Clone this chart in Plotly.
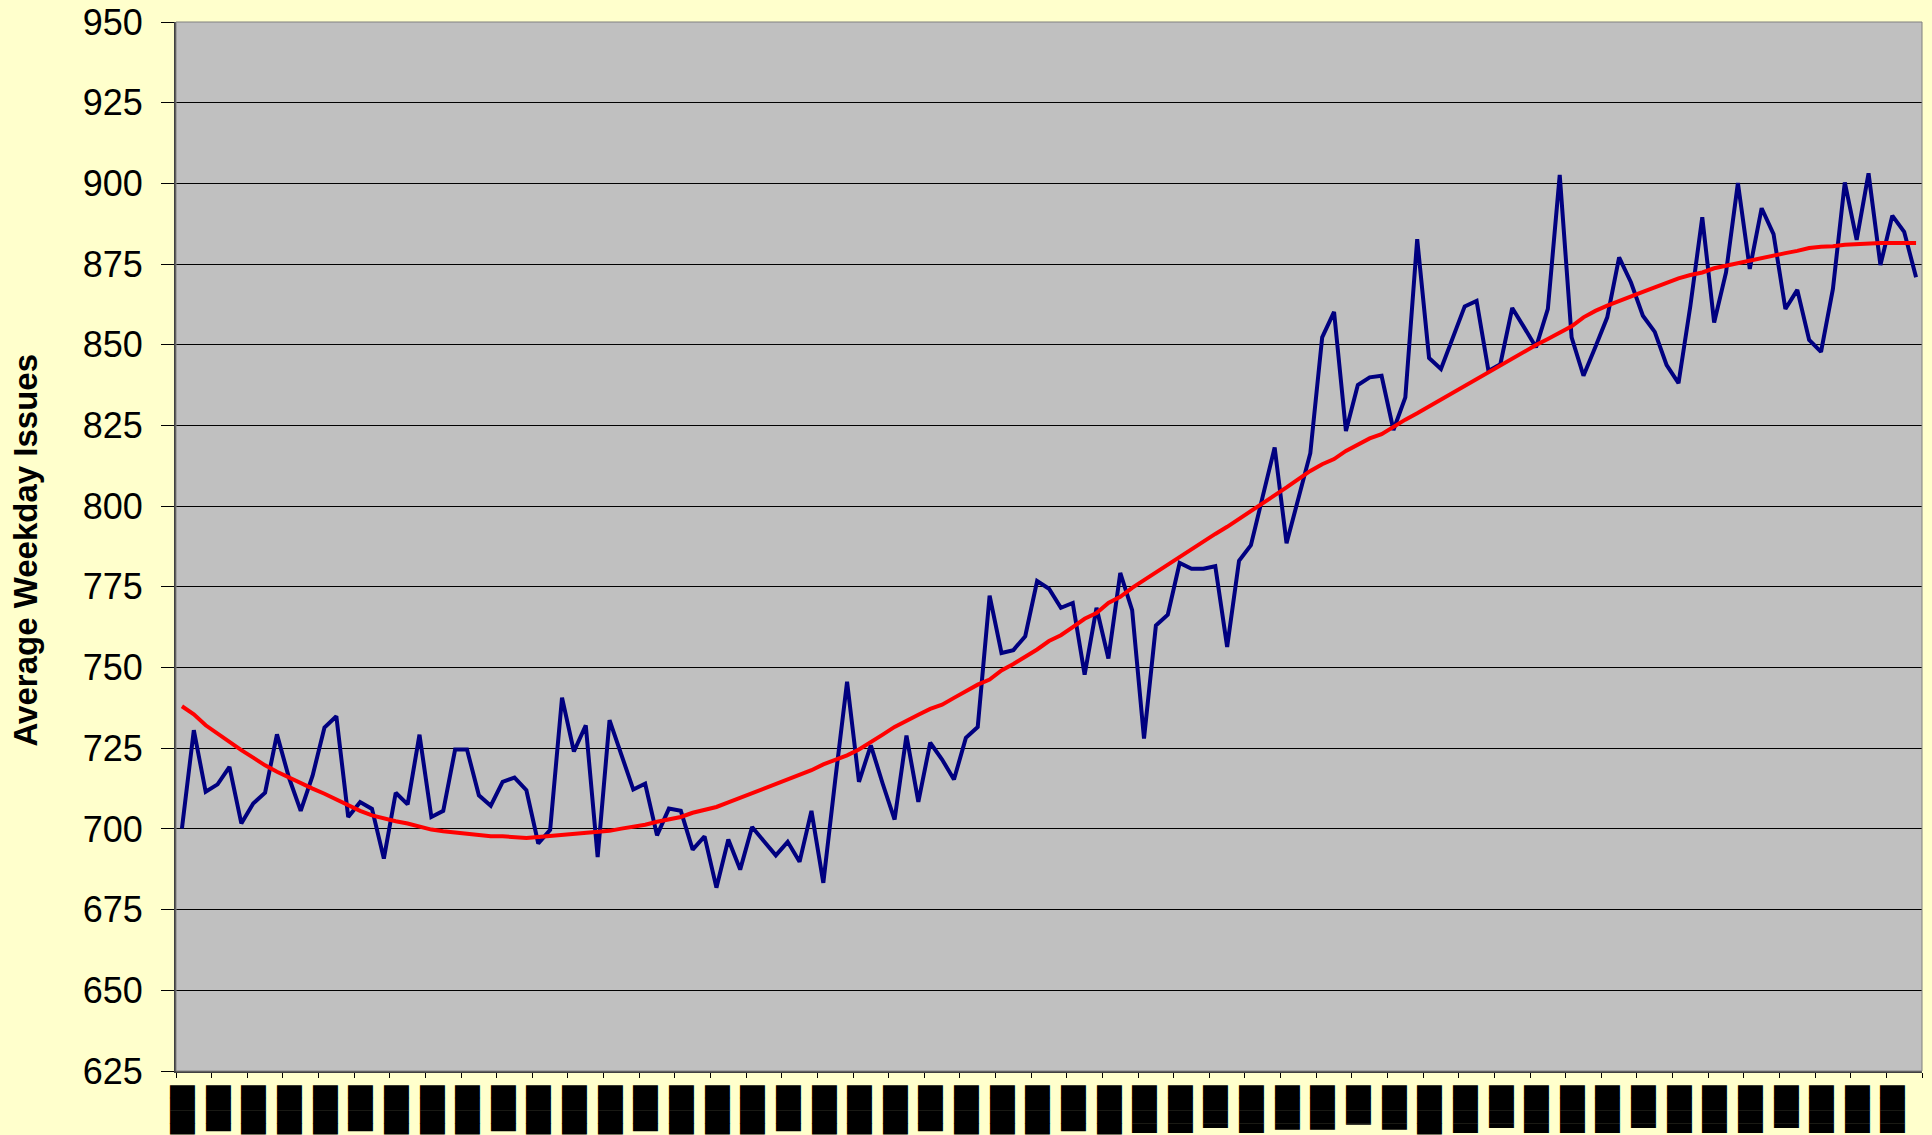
import plotly.graph_objects as go

# Monthly average weekday issues (147 months) and the smoothed trend
issues = [
    700.1, 730.6, 711.5, 713.8, 719.2, 701.7, 707.9, 711.2, 729.3, 716.0,
    705.6, 716.5, 731.4, 734.9, 703.7, 708.3, 706.2, 690.8, 711.2, 707.6,
    729.2, 703.7, 705.6, 724.6, 724.6, 710.4, 707.2, 714.6, 715.9, 712.0,
    695.5, 699.7, 740.7, 724.0, 732.1, 691.3, 733.7, 722.8, 712.2, 714.0,
    698.0, 706.3, 705.6, 693.6, 697.7, 681.8, 696.7, 687.4, 700.6, 696.2,
    691.8, 696.0, 689.8, 705.6, 683.3, 715.1, 745.6, 714.6, 725.9, 714.0,
    702.9, 728.9, 708.4, 726.7, 721.5, 715.3, 728.2, 731.6, 772.3, 754.5,
    755.4, 759.7, 776.8, 774.4, 768.5, 770.0, 747.8, 768.5, 752.8, 779.3,
    767.8, 728.0, 763.0, 766.4, 782.4, 780.6, 780.6, 781.4, 756.4, 783.1,
    787.9, 803.1, 818.2, 788.5, 802.2, 816.4, 852.3, 860.2, 823.3, 837.5,
    839.9, 840.4, 823.6, 833.7, 882.7, 845.9, 842.5, 851.8, 861.9, 863.6,
    841.9, 844.0, 861.4, 855.4, 849.2, 861.1, 902.6, 852.3, 840.4, 849.3,
    858.5, 877.1, 869.3, 859.0, 854.0, 843.7, 838.1, 862.1, 889.5, 856.9,
    872.4, 900.1, 873.5, 892.3, 884.3, 861.1, 867.0, 851.5, 847.8, 867.3,
    900.3, 882.5, 903.1, 874.7, 890.0, 885.0, 870.9,
]

trend = [
    738.0, 735.5, 732.1, 729.5, 727.0, 724.4, 722.1, 719.7, 717.7, 715.9,
    714.3, 712.5, 710.9, 709.1, 707.1, 705.6, 704.2, 703.2, 702.4, 701.7,
    700.6, 699.8, 699.3, 698.9, 698.3, 698.0, 697.7, 697.7, 697.3, 697.2,
    697.5, 697.8, 698.0, 698.2, 698.6, 699.1, 699.4, 700.1, 700.6, 701.3,
    702.2, 702.9, 703.7, 705.0, 705.8, 706.8, 708.2, 709.6, 710.9, 712.3,
    713.8, 715.3, 716.8, 718.2, 720.0, 721.3, 722.8, 724.6, 726.8, 729.2,
    731.6, 733.6, 735.4, 737.2, 738.5, 740.6, 742.7, 744.7, 746.3, 749.1,
    751.1, 753.3, 755.6, 758.2, 760.0, 762.5, 765.1, 766.9, 770.0, 771.9,
    774.7, 777.1, 779.5, 781.9, 784.5, 786.8, 789.2, 791.4, 793.6, 796.0,
    798.6, 801.1, 803.2, 805.8, 808.4, 810.9, 813.0, 814.6, 817.1, 819.2,
    821.0, 822.3, 824.7, 826.8, 828.8, 830.9, 833.2, 835.2, 837.5, 839.4,
    841.4, 843.7, 845.6, 847.8, 849.9, 851.8, 853.6, 855.7, 858.5, 860.5,
    862.1, 863.6, 865.2, 866.4, 867.8, 869.3, 870.6, 871.6, 872.4, 873.7,
    874.5, 875.5, 876.3, 877.1, 877.8, 878.4, 879.1, 880.0, 880.4, 880.5,
    881.0, 881.2, 881.5, 881.5, 881.5, 881.5, 881.5,
]

months = list(range(len(issues)))

# Quarterly category labels (one every third month), set as solid block glyphs
quarter_positions = list(range(0, len(issues), 3))
quarter_labels = [
    "███▉", "███▋", "███▉", "███▉", "███▉", "███▋", "███▉", "███▉", "███▉", "███▋",
    "███▉", "███▉", "███▉", "███▋", "███▉", "███▉", "███▉", "███▋", "███▉", "███▉",
    "███▉", "███▋", "███▉", "███▉", "███▉", "███▋", "███▉", "███▊", "███▊", "███▍",
    "███▊", "███▌", "███▌", "███▏", "███▌", "███▉", "███▊", "███▍", "███▊", "███▊",
    "███▊", "███▍", "███▊", "███▊", "███▊", "███▍", "███▊", "███▊", "███▊",
]

y_ticks = list(range(625, 951, 25))

fig = go.Figure()
fig.add_trace(go.Scatter(
    x=months, y=issues, mode="lines",
    line=dict(color="#000080", width=4),
    showlegend=False,
))
fig.add_trace(go.Scatter(
    x=months, y=trend, mode="lines",
    line=dict(color="#FF0000", width=4),
    showlegend=False,
))

# grey frame around the plotting area
fig.add_shape(type="rect", xref="paper", yref="paper", x0=0, x1=1, y0=0, y1=1,
              line=dict(color="#808080", width=1), layer="above")

fig.update_layout(
    width=1932, height=1135,
    margin=dict(l=176, r=10, t=22, b=64, autoexpand=False),
    paper_bgcolor="#FFFFCC",
    plot_bgcolor="#C0C0C0",
    showlegend=False,
    annotations=[dict(
        text="Average Weekday Issues", textangle=-90,
        xref="paper", yref="paper", x=0, y=0.5,
        xanchor="center", yanchor="middle", xshift=-151, yshift=-4, showarrow=False,
        font=dict(family="Liberation Sans", size=33, color="#000000", weight="bold"),
    )],
)

fig.update_xaxes(
    range=[-0.5, len(issues) - 0.5], automargin=False,
    tickmode="array", tickvals=quarter_positions, ticktext=quarter_labels,
    tickangle=90, ticks="", ticklabelstandoff=8,
    tickfont=dict(family="DejaVu Sans Mono", size=21, color="#000000"),
    showgrid=False, zeroline=False,
    showline=True, linecolor="#404040", linewidth=2,
    minor=dict(tickmode="linear", tick0=-0.5, dtick=3, ticks="outside",
               ticklen=5, tickcolor="#000000", tickwidth=1, showgrid=False),
)
fig.update_yaxes(
    range=[625, 950], automargin=False,
    tickmode="array", tickvals=y_ticks,
    ticks="outside", ticklen=13, tickcolor="#000000", tickwidth=1,
    tickfont=dict(family="Liberation Sans", size=36, color="#000000"),
    ticklabelstandoff=11,
    showgrid=True, gridcolor="#000000", gridwidth=1,
    zeroline=False,
    showline=True, linecolor="#404040", linewidth=2,
)

fig.write_html("out.html")
